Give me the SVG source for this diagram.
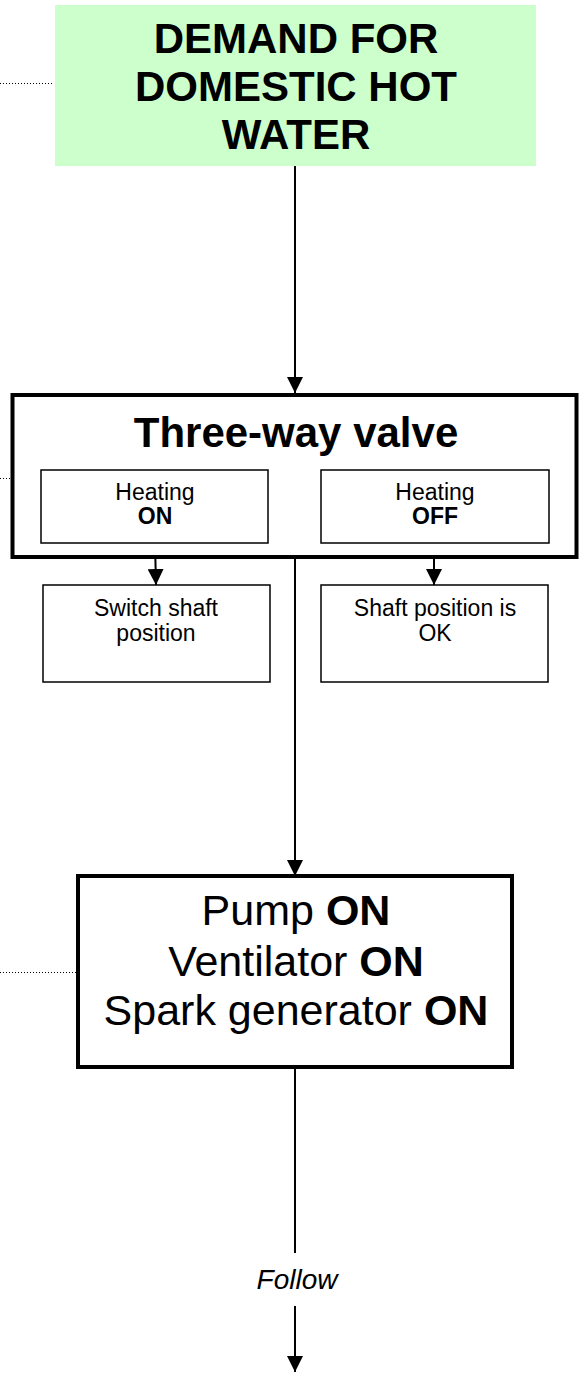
<svg xmlns="http://www.w3.org/2000/svg" width="581" height="1373" viewBox="0 0 581 1373">
<defs>
<marker id="arr" markerWidth="16" markerHeight="16" viewBox="0 0 16 16" refX="16" refY="8" orient="auto" markerUnits="userSpaceOnUse">
<path d="M0,0 L16,8 L0,16 Z" fill="#000"/>
</marker>
<style>
.t{font-family:"Liberation Sans",Arial,sans-serif;fill:#000;text-anchor:middle}
.big{font-size:42px;font-weight:bold}
.mid{font-size:43px}
.sm{font-size:23px}
.b{font-weight:bold}
.thick{fill:#fff;stroke:#000;stroke-width:4}
.thin{fill:#fff;stroke:#000;stroke-width:1.5}
.ln{stroke:#000;stroke-width:2;fill:none}
.dot{stroke:#000;stroke-width:1;stroke-dasharray:1 2;fill:none}
</style>
</defs>
<g id="connectors">
<line class="ln" x1="295" y1="166" x2="295" y2="393" marker-end="url(#arr)"/>
<line class="ln" x1="155" y1="543" x2="156" y2="585" marker-end="url(#arr)"/>
<line class="ln" x1="434" y1="543" x2="434" y2="585" marker-end="url(#arr)"/>
<line class="ln" x1="295" y1="557" x2="295" y2="876" marker-end="url(#arr)"/>
<line class="ln" x1="295" y1="1067" x2="295" y2="1253"/>
<line class="ln" x1="295" y1="1306" x2="295" y2="1372" marker-end="url(#arr)"/>
<line class="dot" x1="0" y1="83.5" x2="53" y2="83.5"/>
<line class="dot" x1="0" y1="478.5" x2="10" y2="478.5"/>
<line class="dot" x1="0" y1="972.5" x2="76" y2="972.5"/>
</g>
<g id="demand">
<rect x="55" y="5" width="481" height="161" fill="#ccffcc"/>
<text class="t big" x="296" y="53">DEMAND FOR</text>
<text class="t big" x="296" y="101">DOMESTIC HOT</text>
<text class="t big" x="296" y="149">WATER</text>
</g>
<g id="valve">
<rect class="thick" x="12.5" y="395" width="564" height="162"/>
<text class="t big" x="296" y="447">Three-way valve</text>
</g>
<g id="heating-on">
<rect class="thin" x="41" y="470" width="227" height="73"/>
<text class="t sm" x="155" y="500">Heating</text>
<text class="t sm b" x="155" y="524">ON</text>
</g>
<g id="heating-off">
<rect class="thin" x="321" y="470" width="228" height="73"/>
<text class="t sm" x="435" y="500">Heating</text>
<text class="t sm b" x="435" y="524">OFF</text>
</g>
<g id="switch-shaft">
<rect class="thin" x="43" y="585" width="227" height="97"/>
<text class="t sm" x="156" y="616">Switch shaft</text>
<text class="t sm" x="156" y="641">position</text>
</g>
<g id="shaft-ok">
<rect class="thin" x="321" y="585" width="227" height="97"/>
<text class="t sm" x="435" y="616">Shaft position is</text>
<text class="t sm" x="435" y="641">OK</text>
</g>
<g id="pump">
<rect class="thick" x="78" y="876" width="434" height="191"/>
<text class="t mid" x="296" y="925">Pump <tspan class="b">ON</tspan></text>
<text class="t mid" x="296" y="976">Ventilator <tspan class="b">ON</tspan></text>
<text class="t mid" x="296" y="1025">Spark generator <tspan class="b">ON</tspan></text>
</g>
<g id="follow">
<text class="t" x="297" y="1289" font-size="28" font-style="italic">Follow</text>
</g>
</svg>
